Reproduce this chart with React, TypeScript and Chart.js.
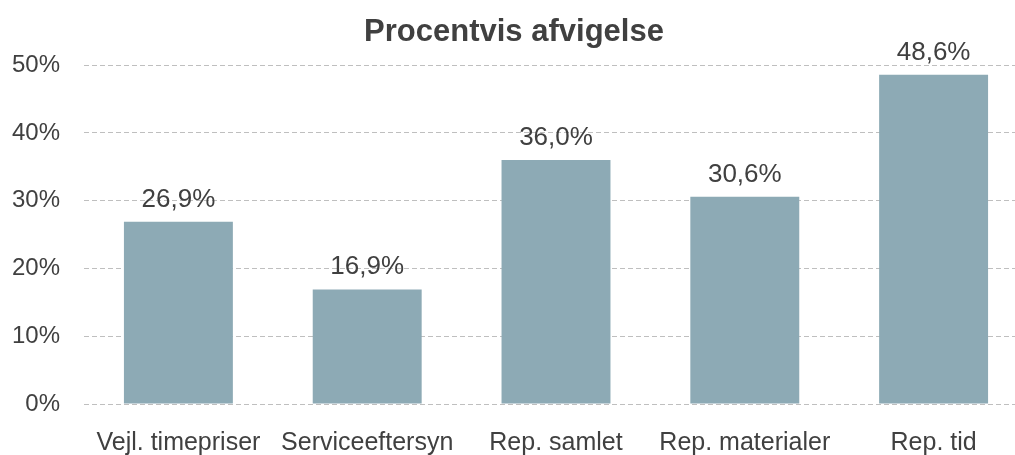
import React, { useEffect, useRef } from "react";
import { Chart, registerables } from "chart.js";

Chart.register(...registerables);

const categories = ["Vejl. timepriser", "Serviceeftersyn", "Rep. samlet", "Rep. materialer", "Rep. tid"];
const values = [26.9, 16.9, 36.0, 30.6, 48.6];
const title = "Procentvis afvigelse";

const FONT = "'Liberation Sans', Arial, sans-serif";
const fmt = (v: number) => v.toFixed(1).replace(".", ",") + "%";

const labelPlugin = {
  id: "valueLabels",
  afterDatasetsDraw(chart: any) {
    const ctx = chart.ctx;
    const meta = chart.getDatasetMeta(0);
    ctx.save();
    ctx.font = "26px " + FONT;
    ctx.fillStyle = "#404040";
    ctx.textAlign = "center";
    ctx.textBaseline = "alphabetic";
    meta.data.forEach((el: any, i: number) => {
      ctx.fillText(fmt(values[i]), el.x, el.y - 15);
    });
    ctx.restore();
  },
};

export default function App() {
  const ref = useRef<HTMLCanvasElement>(null);
  useEffect(() => {
    document.body.style.margin = "0";
    const chart = new Chart(ref.current!, {
      type: "bar",
      data: {
        labels: categories,
        datasets: [
          {
            data: values,
            backgroundColor: "#8DAAB5",
            categoryPercentage: 1,
            barPercentage: 0.577,
          },
        ],
      },
      options: {
        animation: false,
        responsive: false,
        layout: { padding: { left: 0, right: 2, top: 0, bottom: 0 } },
        plugins: {
          legend: { display: false },
          tooltip: { enabled: false },
          title: {
            display: true,
            text: title,
            color: "#404040",
            font: { family: FONT, size: 31, weight: "bold" },
            padding: { top: 14, bottom: 14 },
          },
        },
        scales: {
          x: {
            grid: { display: false, drawTicks: false },
            border: { display: false },
            afterFit: (scale: any) => { scale.height = 51; },
            ticks: {
              color: "#404040",
              font: { family: FONT, size: 25 },
              padding: 24,
              maxRotation: 0,
            },
          },
          y: {
            min: 0,
            max: 50,
            afterFit: (scale: any) => { scale.width = 84; },
            grid: {
              color: "#BFBFBF",
              lineWidth: 1,
              drawTicks: false,
            },
            border: { display: false, dash: [5, 3] },
            ticks: {
              stepSize: 10,
              color: "#404040",
              font: { family: FONT, size: 24 },
              padding: 24,
              callback: (v: any) => v + "%",
            },
          },
        },
      },
      plugins: [labelPlugin],
    });
    return () => chart.destroy();
  }, []);
  return (
    <div style={{ width: 1015, height: 455, overflow: "hidden" }}>
      <canvas ref={ref} width={1030} height={455} style={{ display: "block" }} />
    </div>
  );
}
